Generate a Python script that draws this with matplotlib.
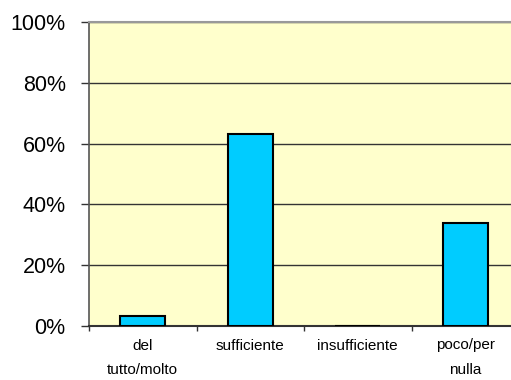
import matplotlib
matplotlib.use("Agg")
import matplotlib.pyplot as plt
from matplotlib.ticker import FixedLocator, PercentFormatter

categories = ["del\ntutto/molto", "sufficiente", "insufficiente", "poco/per\nnulla"]
values = [3.3, 63.2, 0.0, 34.0]
yticks = [0, 20, 40, 60, 80, 100]

plt.rcParams['font.family'] = ['Liberation Sans', 'DejaVu Sans']
fig = plt.figure(figsize=(5.11, 3.80), dpi=100)
ax = fig.add_axes([89/511, 54/380, 430/511, 304/380])
ax.set_facecolor("#FFFFCC")

x = list(range(len(categories)))
ax.bar(x, values, width=0.42, color="#00CCFF", edgecolor="black", linewidth=1.5, zorder=3)

ax.set_xlim(-0.5, len(categories) - 0.5)
ax.set_ylim(0, 100)
ax.set_yticks(yticks)
ax.yaxis.set_major_formatter(PercentFormatter(decimals=0))
ax.grid(axis="y", color="#333333", linewidth=1.0, zorder=1)

ax.set_xticks(x)
ax.set_xticklabels(categories, fontsize=11, linespacing=1.95)
ax.tick_params(axis="x", which="major", length=0, pad=9)
ax.xaxis.set_minor_locator(FixedLocator([i - 0.5 for i in range(len(categories))]))
ax.tick_params(axis="x", which="minor", length=3.6, width=1, color="#333333")
ax.tick_params(axis="y", length=5.8, width=1, color="#333333", labelsize=15.5, pad=11)

ax.spines["right"].set_visible(False)
ax.spines["top"].set_color("#999999")
ax.spines["top"].set_linewidth(1.5)
ax.spines["left"].set_color("#555555")
ax.spines["left"].set_linewidth(1.2)
ax.spines["bottom"].set_color("#333333")
ax.spines["bottom"].set_linewidth(1.5)

fig.savefig("out.png", dpi=100)
